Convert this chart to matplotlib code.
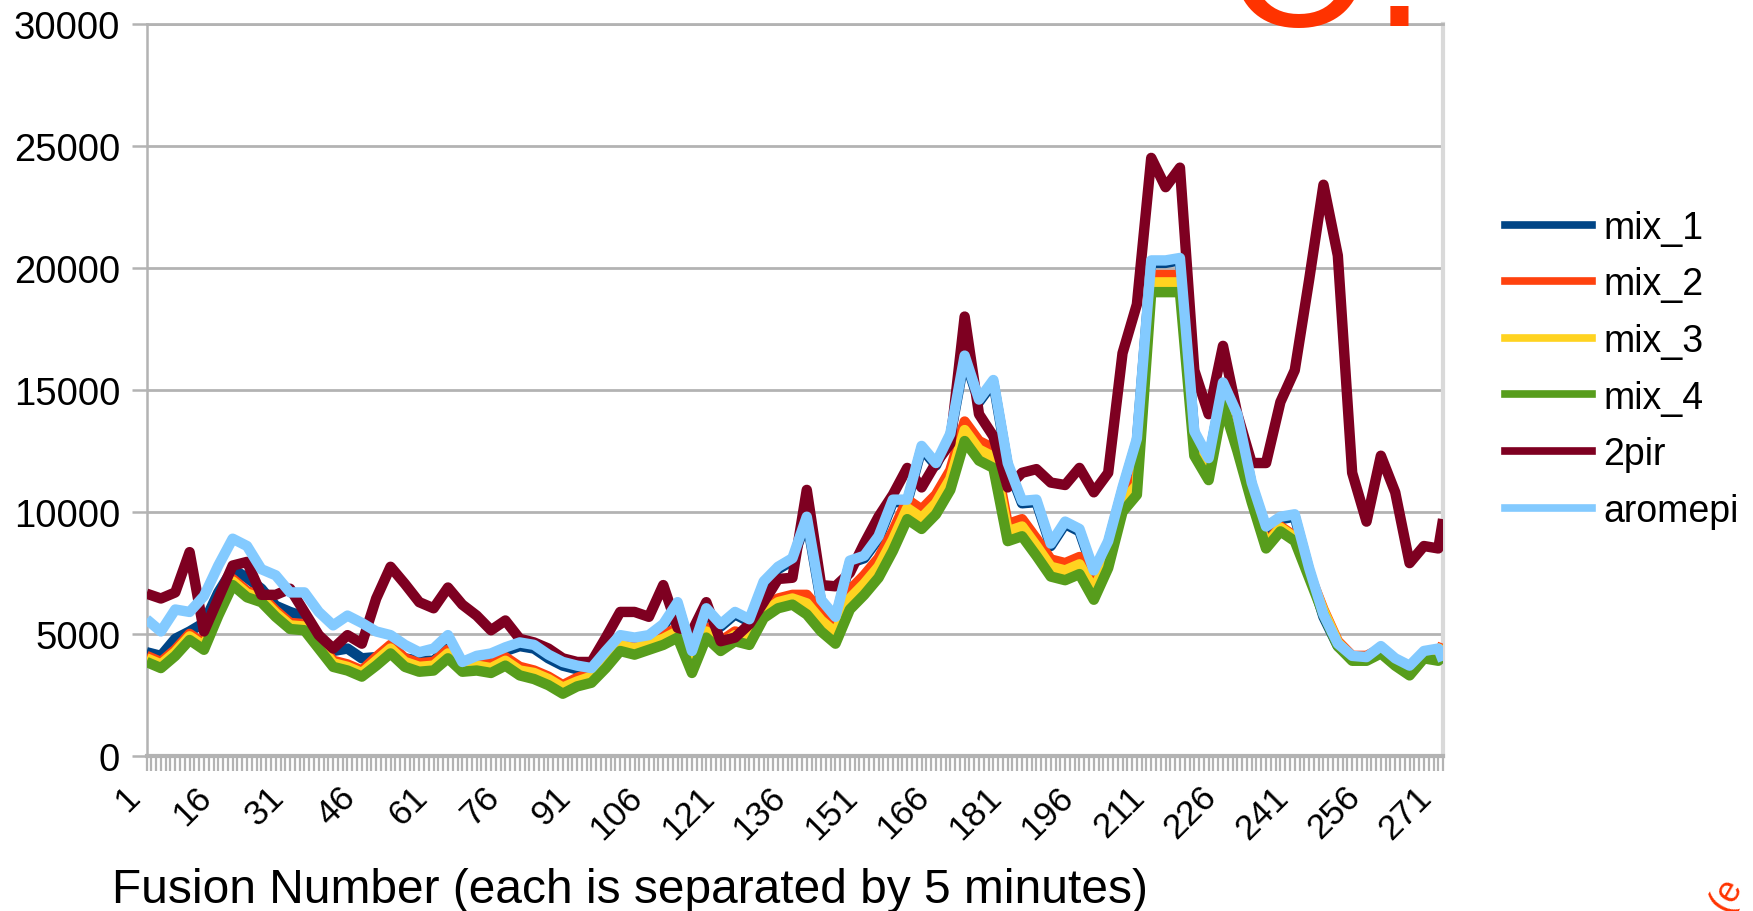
import numpy as np
from matplotlib import pyplot as plt
from matplotlib.lines import Line2D

plt.rcParams["font.family"] = ["Liberation Sans", "DejaVu Sans"]

# fusion numbers, every third one plus the last
fusion = list(range(1, 272, 3)) + [272]

mix_1 = [4250, 4100, 4800, 5100, 5450, 6700, 7650, 7300, 6850, 6150, 5900, 5700, 4800, 4300, 4400, 4000,
         4050, 4300, 4000, 3900, 3900, 4400, 3700, 3950, 4050, 4300, 4500, 4400, 4000, 3700, 3550,
         3500, 4200, 4850, 4750, 4850, 5300, 6200, 4200, 5950, 5300, 5800, 5500, 7050, 7650, 8000,
         9700, 6300, 5600, 7900, 8100, 8900, 10400, 10400, 12600, 11900, 13100, 16300, 14500, 15300,
         11900, 10350, 10400, 8600, 9500, 9200, 7500, 8700, 10900, 12900, 20200, 20200, 20300, 13200, 12100, 15200,
         13900, 11100, 9300, 9700, 9800, 7600, 5700, 4500, 4000, 3950, 4400, 3900, 3600, 4200, 4300, 3800]

mix_2 = [4100, 3850, 4350, 5000, 4600, 6000, 7250, 6750, 6550, 5950, 5450, 5400, 4650, 3900, 3750, 3500,
         4050, 4550, 4000, 3800, 3850, 4350, 3800, 3850, 3750, 4050, 3650, 3500, 3250, 2900, 3200,
         3400, 4000, 4700, 4550, 4750, 4950, 5250, 3800, 5250, 4700, 5100, 4950, 6050, 6450, 6600,
         6600, 5900, 5400, 6800, 7400, 8100, 9200, 10500, 10100, 10700, 11700, 13700, 12900, 12600,
         9500, 9700, 8900, 8050, 7900, 8150, 7100, 8400, 10700, 11400, 19700, 19700, 19700, 13000, 12000, 15100,
         12700, 10600, 8700, 9400, 9000, 7500, 6000, 4700, 4100, 4100, 4400, 3900, 3500, 4200, 4100, 4600]

mix_3 = [4000, 3750, 4250, 4900, 4500, 5900, 7150, 6650, 6450, 5850, 5350, 5300, 4550, 3800, 3650, 3400,
         3900, 4400, 3850, 3650, 3700, 4200, 3650, 3700, 3600, 3900, 3500, 3400, 3150, 2800, 3050,
         3250, 3850, 4550, 4400, 4600, 4800, 5100, 3650, 5100, 4550, 4950, 4800, 5900, 6300, 6450,
         6250, 5550, 5050, 6450, 7050, 7750, 8850, 10150, 9750, 10350, 11350, 13350, 12550, 12250,
         9200, 9400, 8600, 7750, 7600, 7850, 6800, 8100, 10400, 11100, 19400, 19400, 19400, 12700, 11700, 14800,
         12650, 10550, 8650, 9350, 8950, 7450, 5950, 4650, 4050, 4050, 4350, 3850, 3450, 4150, 4050, 4550]

mix_4 = [3850, 3600, 4100, 4750, 4350, 5750, 7000, 6500, 6300, 5700, 5200, 5150, 4400, 3650, 3500, 3250,
         3700, 4200, 3650, 3450, 3500, 4000, 3450, 3500, 3400, 3700, 3300, 3150, 2900, 2550, 2850,
         3000, 3600, 4300, 4150, 4350, 4550, 4850, 3400, 4850, 4300, 4700, 4550, 5650, 6050, 6200,
         5800, 5100, 4600, 6000, 6600, 7300, 8400, 9700, 9300, 9900, 10900, 12900, 12100, 11800,
         8800, 9000, 8200, 7350, 7200, 7450, 6400, 7700, 10000, 10700, 19000, 19000, 19000, 12300, 11300, 14400,
         12500, 10400, 8500, 9200, 8800, 7300, 5800, 4500, 3900, 3900, 4200, 3700, 3300, 4000, 3900, 4400]

pir2 = [6650, 6450, 6700, 8350, 5100, 6450, 7800, 7950, 6600, 6600, 6850, 5900, 4950, 4400, 4950, 4600,
        6450, 7750, 7050, 6300, 6050, 6900, 6200, 5750, 5150, 5550, 4800, 4650, 4400, 4000, 3850,
        3850, 4850, 5900, 5900, 5700, 7000, 5250, 5100, 6300, 4700, 4850, 5400, 6300, 7250, 7300,
        10900, 7000, 6950, 7500, 8700, 9800, 10700, 11800, 11000, 12000, 12800, 18000, 14000, 13100,
        11000, 11600, 11750, 11200, 11100, 11800, 10800, 11600, 16500, 18500, 24500, 23300, 24100, 15800, 14000, 16800,
        14000, 12000, 12000, 14500, 15800, 19500, 23400, 20500, 11600, 9600, 12300, 10800, 7900, 8600, 8500, 9700]

aromepi = [5600, 5100, 6000, 5900, 6550, 7800, 8900, 8600, 7650, 7400, 6700, 6700, 5900, 5350, 5750, 5450,
           5100, 4950, 4550, 4250, 4400, 4950, 3850, 4100, 4200, 4450, 4650, 4550, 4150, 3850, 3700,
           3600, 4300, 4950, 4850, 4950, 5400, 6300, 4300, 6050, 5400, 5900, 5600, 7150, 7750, 8100,
           9800, 6400, 5700, 8000, 8200, 9000, 10500, 10500, 12700, 12000, 13200, 16400, 14600, 15400,
           12000, 10450, 10500, 8700, 9600, 9300, 7600, 8800, 11000, 13000, 20300, 20300, 20400, 13300, 12200, 15300,
           14000, 11200, 9400, 9800, 9900, 7700, 5800, 4600, 4100, 4050, 4500, 4000, 3700, 4300, 4400, 3900]

series = [mix_1, mix_2, mix_3, mix_4, pir2, aromepi]
series_names = ["mix_1", "mix_2", "mix_3", "mix_4", "2pir", "aromepi"]
series_colors = ["#004586", "#ff420e", "#ffd320", "#579d1c", "#7e0021", "#83caff"]

y_ticks = [0, 5000, 10000, 15000, 20000, 25000, 30000]
x_ticks = list(range(1, 272, 15))
x_label = "Fusion Number (each is separated by 5 minutes)"

grid_color = "#b3b3b3"
slide_red = "#ff3300"

fig = plt.figure(figsize=(17.53, 9.12), dpi=100)
ax = fig.add_axes([0.0836, 0.17, 0.7396, 0.803])

for values, name, color in zip(series, series_names, series_colors):
    ax.plot(fusion, values, color=color, lw=7.5, label=name,
            solid_joinstyle="round", solid_capstyle="butt", zorder=3)

ax.set_xlim(1, 272)
ax.set_ylim(0, 30000)

# y axis
ax.set_yticks(y_ticks)
ax.set_yticklabels([str(v) for v in y_ticks], fontsize=27.5)
ax.yaxis.grid(True, color=grid_color, lw=2, zorder=0)
ax.tick_params(axis="y", length=11, width=1.8, color=grid_color, pad=8, labelcolor="black")

# x axis: a tick for every fusion, labels every 15
ax.set_xticks(x_ticks)
ax.set_xticklabels([str(v) for v in x_ticks], fontsize=25.5, rotation=45, ha="right")
ax.set_xticks(np.arange(1, 273), minor=True)
ax.tick_params(axis="x", which="both", length=11, width=1.6, color=grid_color, pad=6)

for side in ["left", "bottom"]:
    ax.spines[side].set_color(grid_color)
ax.spines["left"].set_linewidth(1.8)
ax.spines["bottom"].set_linewidth(3)
ax.spines["right"].set_color("#d9d9d9")
ax.spines["right"].set_linewidth(3)
ax.spines["top"].set_color(grid_color)
ax.spines["top"].set_linewidth(2)

fig.text(0.0639, 0.0099, x_label, fontsize=34.5, ha="left", va="baseline")

handles = [Line2D([], [], color=c, lw=5.5) for c in series_colors]
fig.legend(handles, series_names, loc="center left", bbox_to_anchor=(0.8585, 0.594),
           frameon=False, fontsize=27, handlelength=2.33, handletextpad=0.3,
           labelspacing=0.55, borderpad=0, borderaxespad=0)

# slide text fragments around the chart
fig.text(0.699, 0.9715, "O.", color=slide_red, fontsize=137, ha="left", va="baseline")
fig.text(0.989, -0.006, "(e", color=slide_red, fontsize=26, rotation=60,
         rotation_mode="anchor", ha="left", va="bottom")

fig.savefig("out.png", dpi=100)
